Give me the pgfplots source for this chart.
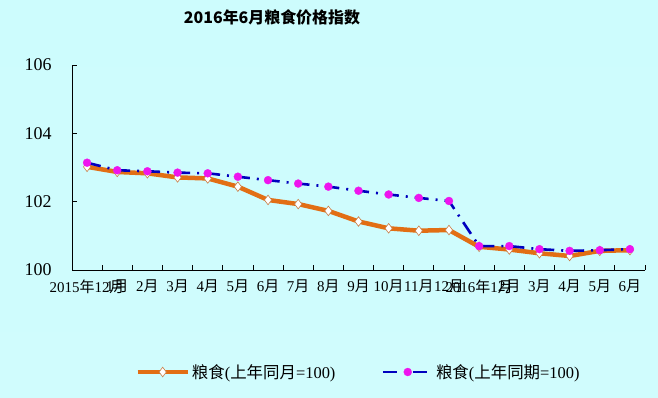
\documentclass[border=0pt]{standalone}
\usepackage{fontspec}
\setmainfont{Liberation Serif}
\newfontfamily\cjk{Noto Sans CJK SC}
\usepackage{pgfplots}
\pgfplotsset{compat=1.18}
\definecolor{bgtop}{RGB}{205,252,253}
\definecolor{bgmid}{RGB}{247,254,254}
\definecolor{bgbot}{RGB}{208,252,253}
\definecolor{orangeL}{RGB}{226,110,20}
\definecolor{diaedge}{RGB}{200,125,70}
\definecolor{blueL}{RGB}{0,0,190}
\definecolor{magM}{RGB}{238,20,238}
\newcommand\yue{{\cjk 月}}
\newcommand\nian{{\cjk 年}}
\begin{document}
\begin{tikzpicture}
\useasboundingbox (0,0) rectangle (658bp,398bp);
\shade[top color=bgtop, middle color=bgmid, bottom color=bgbot] (0,0) rectangle (658bp,398bp);
\begin{axis}[
  at={(72bp,128bp)}, anchor=south west,
  scale only axis, width=573bp, height=205bp,
  xmin=0.5, xmax=19.5, ymin=100, ymax=106,
  axis x line*=bottom, axis y line*=left,
  axis line style={-, black, line width=0.9bp},
  tick align=inside,
  ytick={100,102,104,106},
  major tick length=5bp, minor tick length=5bp,
  every tick/.style={black, line width=0.8bp},
  xtick={1,...,19},
  major x tick style={draw=none},
  minor xtick={0.5,1.5,...,19.5},
  xticklabels={2015\nian12\yue, 1\yue, 2\yue, 3\yue, 4\yue, 5\yue, 6\yue, 7\yue, 8\yue, 9\yue, 10\yue, 11\yue, 12\yue, 2016\nian1\yue, 2\yue, 3\yue, 4\yue, 5\yue, 6\yue},
  xticklabel style={font=\fontsize{15}{15}\selectfont, yshift=-6bp},
  yticklabel style={font=\fontsize{18}{18}\selectfont, xshift=-17bp},
  /pgf/number format/assume math mode=true,
  legend columns=2,
  legend style={at={(0.5,-0.4976)}, anchor=center, draw=none, fill=none,
    font=\fontsize{16.5}{16.5}\selectfont,
    /tikz/every even column/.append style={column sep=44bp}},
  legend image code/.code={\draw[mark repeat=2, mark phase=2, #1] plot coordinates {(0bp,0bp) (25bp,0bp) (50bp,0bp)};},
  clip=false,
]
\addplot[orangeL, line width=4.5bp, mark=diamond*, mark size=4.8bp,
  mark options={solid, fill=white, draw=diaedge, line width=0.6bp}]
  coordinates {(1,103.02) (2,102.87) (3,102.83) (4,102.71) (5,102.68) (6,102.44) (7,102.05) (8,101.93) (9,101.73) (10,101.42) (11,101.22) (12,101.15) (13,101.17) (14,100.68) (15,100.60) (16,100.49) (17,100.41) (18,100.56) (19,100.58)};
\addlegendentry{{\cjk 粮食}({\cjk 上年同月}=100)}
\addplot[blueL, line width=2.6bp, dash pattern=on 14bp off 7bp on 2bp off 7bp, mark=*, mark size=4bp,
  mark options={solid, fill=magM, draw=magM, line width=0.3bp}]
  coordinates {(1,103.14) (2,102.92) (3,102.89) (4,102.85) (5,102.83) (6,102.73) (7,102.63) (8,102.53) (9,102.44) (10,102.32) (11,102.21) (12,102.11) (13,102.02) (14,100.70) (15,100.70) (16,100.61) (17,100.56) (18,100.58) (19,100.61)};
\addlegendentry{{\cjk 粮食}({\cjk 上年同期}=100)}
\node[font=\cjk\bfseries\fontsize{16}{16}\selectfont] at (axis description cs:0.349,1.234) {2016年6月粮食价格指数};
\end{axis}
\end{tikzpicture}
\end{document}
